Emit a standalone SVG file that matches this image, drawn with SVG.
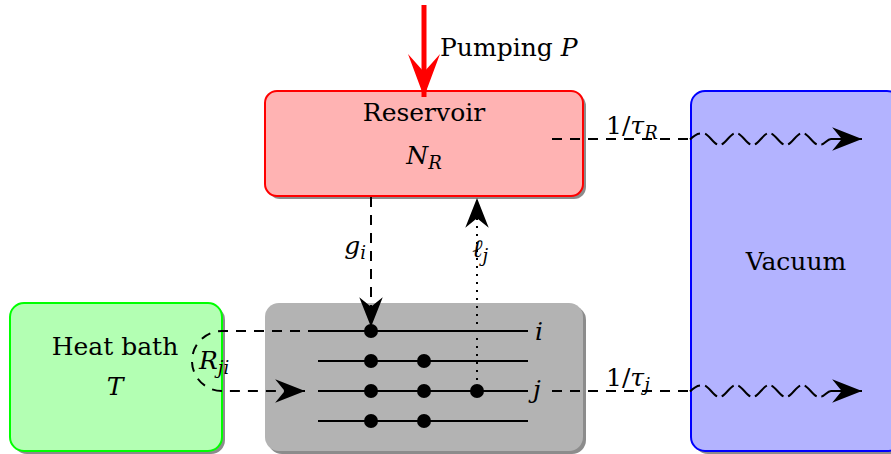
<svg xmlns="http://www.w3.org/2000/svg" width="891" height="454" viewBox="0 0 891 454">
<defs>
<style>
text{font-family:'DejaVu Serif',serif;font-size:25px;fill:#000}
.m{font-style:italic}
.s{font-size:18px;font-style:italic}
.shadow{fill:#000;opacity:0.45}
.dash{fill:none;stroke:#000;stroke-width:2;stroke-dasharray:10 8}
.wave{fill:none;stroke:#000;stroke-width:2}
.dot{fill:none;stroke:#000;stroke-width:2;stroke-dasharray:2 6}
.lvl{stroke:#000;stroke-width:2}
</style>
<marker id="ah" markerUnits="userSpaceOnUse" markerWidth="32" markerHeight="26" viewBox="-29 -12 30 24" refX="0" refY="0" orient="auto">
<path d="M0,0 L-28,-11 L-19,0 L-28,11 Z" fill="#000"/>
</marker>
<marker id="ahr" markerUnits="userSpaceOnUse" markerWidth="46" markerHeight="36" viewBox="-44 -17 46 34" refX="0" refY="0" orient="auto">
<path d="M0,0 L-43,-16 L-25,0 L-43,16 Z" fill="#ff0000"/>
</marker>
</defs>

<g id="vacuum">
<rect class="shadow" x="694" y="94" width="210" height="360" rx="14"/>
<rect x="691" y="91" width="210" height="360" rx="14" fill="#b3b3ff" stroke="#0000ff" stroke-width="2"/>
<text x="796" y="270" text-anchor="middle">Vacuum</text>
</g>

<g id="reservoir">
<rect class="shadow" x="268" y="94" width="318" height="105" rx="12"/>
<rect x="265" y="91" width="318" height="105" rx="12" fill="#ffb3b3" stroke="#ff0000" stroke-width="2"/>
<text x="424" y="121" text-anchor="middle">Reservoir</text>
<text x="424" y="164" text-anchor="middle"><tspan class="m">N</tspan><tspan class="s" dy="5">R</tspan></text>
</g>

<g id="heatbath">
<rect class="shadow" x="13" y="306" width="212" height="148" rx="14"/>
<rect x="10" y="303" width="212" height="148" rx="14" fill="#b3ffb3" stroke="#00ff00" stroke-width="2"/>
<text x="115" y="355" text-anchor="middle">Heat bath</text>
<text x="115" y="395" text-anchor="middle" class="m">T</text>
</g>

<g id="system">
<rect class="shadow" x="268" y="306" width="318" height="148" rx="14"/>
<rect x="265" y="303" width="318" height="148" rx="14" fill="#b3b3b3"/>
<line class="lvl" x1="318" y1="331" x2="528" y2="331"/>
<line class="lvl" x1="318" y1="361" x2="528" y2="361"/>
<line class="lvl" x1="318" y1="391" x2="528" y2="391"/>
<line class="lvl" x1="318" y1="421" x2="528" y2="421"/>
<g fill="#000">
<circle cx="371" cy="331" r="7"/>
<circle cx="371" cy="361" r="7"/>
<circle cx="424" cy="361" r="7"/>
<circle cx="371" cy="391" r="7"/>
<circle cx="424" cy="391" r="7"/>
<circle cx="477" cy="391" r="7"/>
<circle cx="371" cy="421" r="7"/>
<circle cx="424" cy="421" r="7"/>
</g>
<text x="535" y="340" class="m">i</text>
<text x="533" y="398" class="m">j</text>
</g>

<g id="connectors">
<line x1="424" y1="5" x2="424" y2="97" stroke="#ff0000" stroke-width="5" marker-end="url(#ahr)"/>
<text x="440" y="56">Pumping <tspan class="m">P</tspan></text>

<line class="dash" x1="371" y1="197" x2="371" y2="327" marker-end="url(#ah)"/>
<text x="366" y="254" text-anchor="end"><tspan class="m">g</tspan><tspan class="s" dy="5">i</tspan></text>

<line class="dot" x1="477" y1="388" x2="477" y2="198" marker-end="url(#ah)"/>
<text x="472" y="257"><tspan class="m">ℓ</tspan><tspan class="s" dy="5">j</tspan></text>

<path class="dash" d="M318,331 L222,331 A30,30 0 0 0 222,391 L305,391" marker-end="url(#ah)"/>
<text x="199" y="369"><tspan class="m">R</tspan><tspan class="s" dy="5">ji</tspan></text>

<line class="dash" x1="552" y1="139" x2="688" y2="139"/>
<path class="wave" d="M690,139.5 c3,-3 6,-5.5 10,-6 M705.1,133.6 c4,1.9 8,8.9 12,10.8 M721.7,144.4 c4,-1.9 8,-8.9 12,-10.8 M738.3,133.6 c4,1.9 8,8.9 12,10.8 M754.9,144.4 c4,-1.9 8,-8.9 12,-10.8 M771.5,133.6 c4,1.9 8,8.9 12,10.8 M788.1,144.4 c4,-1.9 8,-8.9 12,-10.8 M804.7,133.6 c4,1.9 8,8.9 12,10.8 M821.3,144.4 C825,144.4 827,139 831,139 L862,139" marker-end="url(#ah)"/>
<text x="606" y="134">1/<tspan class="m">τ</tspan><tspan class="s" dy="5">R</tspan></text>

<line class="dash" x1="552" y1="391" x2="688" y2="391"/>
<path class="wave" d="M690,391.5 c3,-3 6,-5.5 10,-6 M705.1,385.6 c4,1.9 8,8.9 12,10.8 M721.7,396.4 c4,-1.9 8,-8.9 12,-10.8 M738.3,385.6 c4,1.9 8,8.9 12,10.8 M754.9,396.4 c4,-1.9 8,-8.9 12,-10.8 M771.5,385.6 c4,1.9 8,8.9 12,10.8 M788.1,396.4 c4,-1.9 8,-8.9 12,-10.8 M804.7,385.6 c4,1.9 8,8.9 12,10.8 M821.3,396.4 C825,396.4 827,391 831,391 L862,391" marker-end="url(#ah)"/>
<text x="606" y="386">1/<tspan class="m">τ</tspan><tspan class="s" dy="5">j</tspan></text>
</g>
</svg>
